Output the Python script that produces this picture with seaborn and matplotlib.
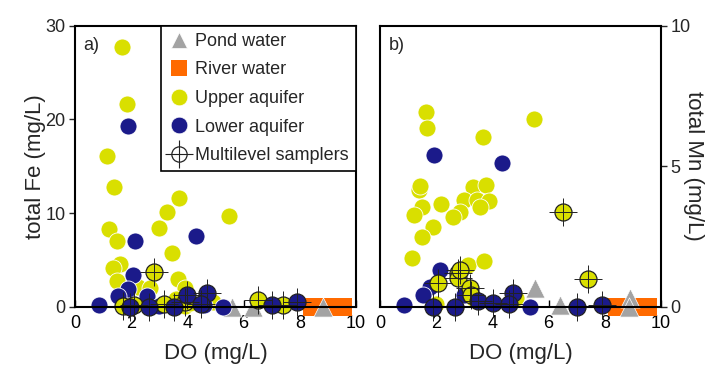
import matplotlib
matplotlib.use("Agg")
import matplotlib.pyplot as plt
import seaborn as sns
import pandas as pd
from matplotlib.lines import Line2D

# ---------------- data ----------------
# Panel a: DO (mg/L) vs total Fe (mg/L)
upper_do_a = [1.66, 1.86, 1.13, 1.39, 3.71, 3.28, 5.47, 2.99, 1.22, 1.48, 3.44, 1.60, 1.36,
              3.68, 1.48, 2.25, 2.67, 3.91, 4.92, 2.70, 3.90, 3.60, 1.90, 4.10]
upper_fe_a = [27.7, 21.6, 16.1, 12.8, 11.6, 10.1, 9.7, 8.4, 8.3, 7.0, 5.7, 4.6, 4.1,
              3.0, 2.7, 2.1, 2.0, 2.0, 0.5, 0.1, 0.1, 0.8, 0.3, 0.4]
lower_do_a = [1.90, 4.30, 2.14, 2.05, 1.87, 1.54, 2.55, 0.85, 5.28, 4.59, 3.00]
lower_fe_a = [19.3, 7.6, 7.0, 3.4, 1.9, 1.1, 1.1, 0.2, 0.0, 0.2, 0.1]
ms_upper_do_a = [2.81, 1.72, 3.18, 6.50, 7.41, 3.90, 2.10]
ms_upper_fe_a = [3.7, 0.1, 0.3, 0.7, 0.2, 0.5, 0.2]
ms_lower_do_a = [4.70, 3.97, 1.96, 2.64, 3.53, 7.00, 7.89, 4.50]
ms_lower_fe_a = [1.5, 1.2, 0.0, 0.0, 0.0, 0.2, 0.5, 0.3]
pond_do_a = [5.60, 6.35, 8.84]
pond_fe_a = [0.0, 0.0, 0.0]
river_do_a = [8.45, 8.90, 9.25, 9.55]
river_fe_a = [0.0, 0.0, 0.0, 0.0]

# Panel b: DO (mg/L) vs total Mn (mg/L)
upper_do_b = [1.63, 1.66, 3.68, 5.48, 1.39, 1.42, 3.30, 3.76, 1.51, 2.16, 3.00, 3.46, 3.89,
              3.56, 2.85, 1.22, 2.59, 1.90, 1.48, 1.15, 3.14, 3.70, 4.85, 3.30, 2.00]
upper_mn_b = [6.94, 6.37, 6.05, 6.67, 4.15, 4.30, 4.27, 4.33, 3.56, 3.65, 3.80, 3.80, 3.77,
              3.56, 3.38, 3.28, 3.20, 2.85, 2.49, 1.74, 1.48, 1.64, 0.30, 0.30, 0.10]
lower_do_b = [1.92, 4.33, 2.14, 1.78, 1.54, 0.86, 5.34, 3.00]
lower_mn_b = [5.40, 5.10, 1.31, 0.71, 0.42, 0.07, 0.00, 0.40]
ms_upper_do_b = [2.79, 2.76, 2.08, 3.20, 6.50, 7.39, 3.25, 2.85]
ms_upper_mn_b = [1.19, 1.01, 0.83, 0.65, 3.38, 0.97, 0.40, 1.30]
ms_lower_do_b = [4.72, 1.90, 2.66, 3.50, 4.03, 4.60, 7.00, 7.89]
ms_lower_mn_b = [0.50, 0.00, 0.00, 0.20, 0.12, 0.10, 0.00, 0.05]
pond_do_b = [5.52, 6.40, 8.90, 8.85]
pond_mn_b = [0.65, 0.06, 0.30, 0.00]
river_do_b = [8.45, 8.90, 9.25, 9.55]
river_mn_b = [0.0, 0.0, 0.0, 0.0]

x_ticks = [0, 2, 4, 6, 8, 10]
fe_ticks = [0, 10, 20, 30]
mn_ticks = [0, 5, 10]

YELLOW = "#d9df00"
NAVY = "#1b1a8a"
ORANGE = "#ff6a00"
GRAY = "#a3a3a3"

# ---------------- style ----------------
sns.set_theme(style="white")
plt.rcParams["font.family"] = ["Liberation Sans", "DejaVu Sans"]
plt.rcParams["axes.linewidth"] = 1.5

fig = plt.figure(figsize=(7.16, 3.67), dpi=100)
axa = fig.add_axes([75 / 716, 60.3 / 367, 281 / 716, 281 / 367])
axb = fig.add_axes([380 / 716, 60.3 / 367, 281 / 716, 281 / 367])

CIRC = 150
CROSS = 420


def draw(ax, pond, river, upper, lower, msu, msl):
    kw = dict(ax=ax, legend=False, clip_on=False)
    sns.scatterplot(x=river[0], y=river[1], marker="s", s=150, color=ORANGE,
                    edgecolor=ORANGE, linewidth=0, zorder=3, **kw)
    sns.scatterplot(x=pond[0], y=pond[1], marker="^", s=190, color=GRAY,
                    edgecolor="white", linewidth=0.5, zorder=4, **kw)
    sns.scatterplot(x=upper[0], y=upper[1], marker="o", s=CIRC, color=YELLOW,
                    edgecolor="white", linewidth=0.6, zorder=5, **kw)
    sns.scatterplot(x=lower[0], y=lower[1], marker="o", s=CIRC, color=NAVY,
                    edgecolor="white", linewidth=0.6, zorder=5, **kw)
    sns.scatterplot(x=msu[0], y=msu[1], marker="o", s=CIRC, color=YELLOW,
                    edgecolor="#222222", linewidth=0.9, zorder=6, **kw)
    sns.scatterplot(x=msl[0], y=msl[1], marker="o", s=CIRC, color=NAVY,
                    edgecolor="#222222", linewidth=0.9, zorder=6, **kw)
    allx = list(msu[0]) + list(msl[0])
    ally = list(msu[1]) + list(msl[1])
    sns.scatterplot(x=allx, y=ally, marker="+", s=CROSS, color="#222222",
                    linewidth=0.7, zorder=7, **kw)


draw(axa, (pond_do_a, pond_fe_a), (river_do_a, river_fe_a),
     (upper_do_a, upper_fe_a), (lower_do_a, lower_fe_a),
     (ms_upper_do_a, ms_upper_fe_a), (ms_lower_do_a, ms_lower_fe_a))
draw(axb, (pond_do_b, pond_mn_b), (river_do_b, river_mn_b),
     (upper_do_b, upper_mn_b), (lower_do_b, lower_mn_b),
     (ms_upper_do_b, ms_upper_mn_b), (ms_lower_do_b, ms_lower_mn_b))

for ax in (axa, axb):
    ax.set_xlim(0, 10)
    ax.set_xticks(x_ticks)
    ax.set_xticklabels([str(t) for t in x_ticks])
    for s in ax.spines.values():
        s.set_color("black")
        s.set_linewidth(1.5)
        s.set_zorder(8)
    ax.tick_params(axis="x", direction="in", length=5, width=1, labelsize=13,
                   pad=6, colors="black", bottom=True)
    ax.set_xlabel("DO (mg/L)", fontsize=16, labelpad=8)

axa.set_ylim(0, 30)
axa.set_yticks(fe_ticks)
axa.set_yticklabels([str(t) for t in fe_ticks])
axa.tick_params(axis="y", direction="out", length=4, width=1, labelsize=13,
                pad=3, left=True)
axa.set_ylabel("total Fe (mg/L)", fontsize=16, va="center", ha="center")
axa.yaxis.set_label_coords(-0.142, 0.5)

axb.set_ylim(0, 10)
axb.set_yticks(mn_ticks)
axb.set_yticklabels([str(t) for t in mn_ticks])
axb.yaxis.tick_right()
axb.yaxis.set_label_position("right")
axb.tick_params(axis="y", direction="out", length=4, width=1, labelsize=13,
                pad=3, right=True, left=False)
axb.set_ylabel("total Mn (mg/L)", fontsize=16, rotation=270,
               va="center", ha="center", rotation_mode="default")
axb.yaxis.set_label_coords(1.115, 0.5)

axa.text(0.03, 0.96, "a)", transform=axa.transAxes, fontsize=13,
         va="top", ha="left")
axb.text(0.03, 0.96, "b)", transform=axb.transAxes, fontsize=13,
         va="top", ha="left")

handles = [
    Line2D([], [], ls="none", marker="^", ms=11, color=GRAY, mec="white", mew=0.5),
    Line2D([], [], ls="none", marker="s", ms=11, color=ORANGE, mew=0),
    Line2D([], [], ls="none", marker="o", ms=12, color=YELLOW, mec="white", mew=0.5),
    Line2D([], [], ls="none", marker="o", ms=12, color=NAVY, mec="white", mew=0.5),
    (Line2D([], [], ls="none", marker="o", ms=11, mfc="none", mec="#222222", mew=0.9),
     Line2D([], [], ls="none", marker="+", ms=20, color="#222222", mew=0.8)),
]
labels = ["Pond water", "River water", "Upper aquifer", "Lower aquifer",
          "Multilevel samplers"]
leg = axa.legend(handles, labels, loc="upper right", bbox_to_anchor=(1.0, 1.0),
                 borderaxespad=0, frameon=True, fancybox=False, fontsize=13,
                 handlelength=1.2, handletextpad=0.3, labelspacing=0.64,
                 borderpad=0.4, framealpha=1)
leg.get_frame().set_edgecolor("black")
leg.get_frame().set_linewidth(1.2)
leg.set_zorder(10)

fig.savefig("out.png", dpi=100)
